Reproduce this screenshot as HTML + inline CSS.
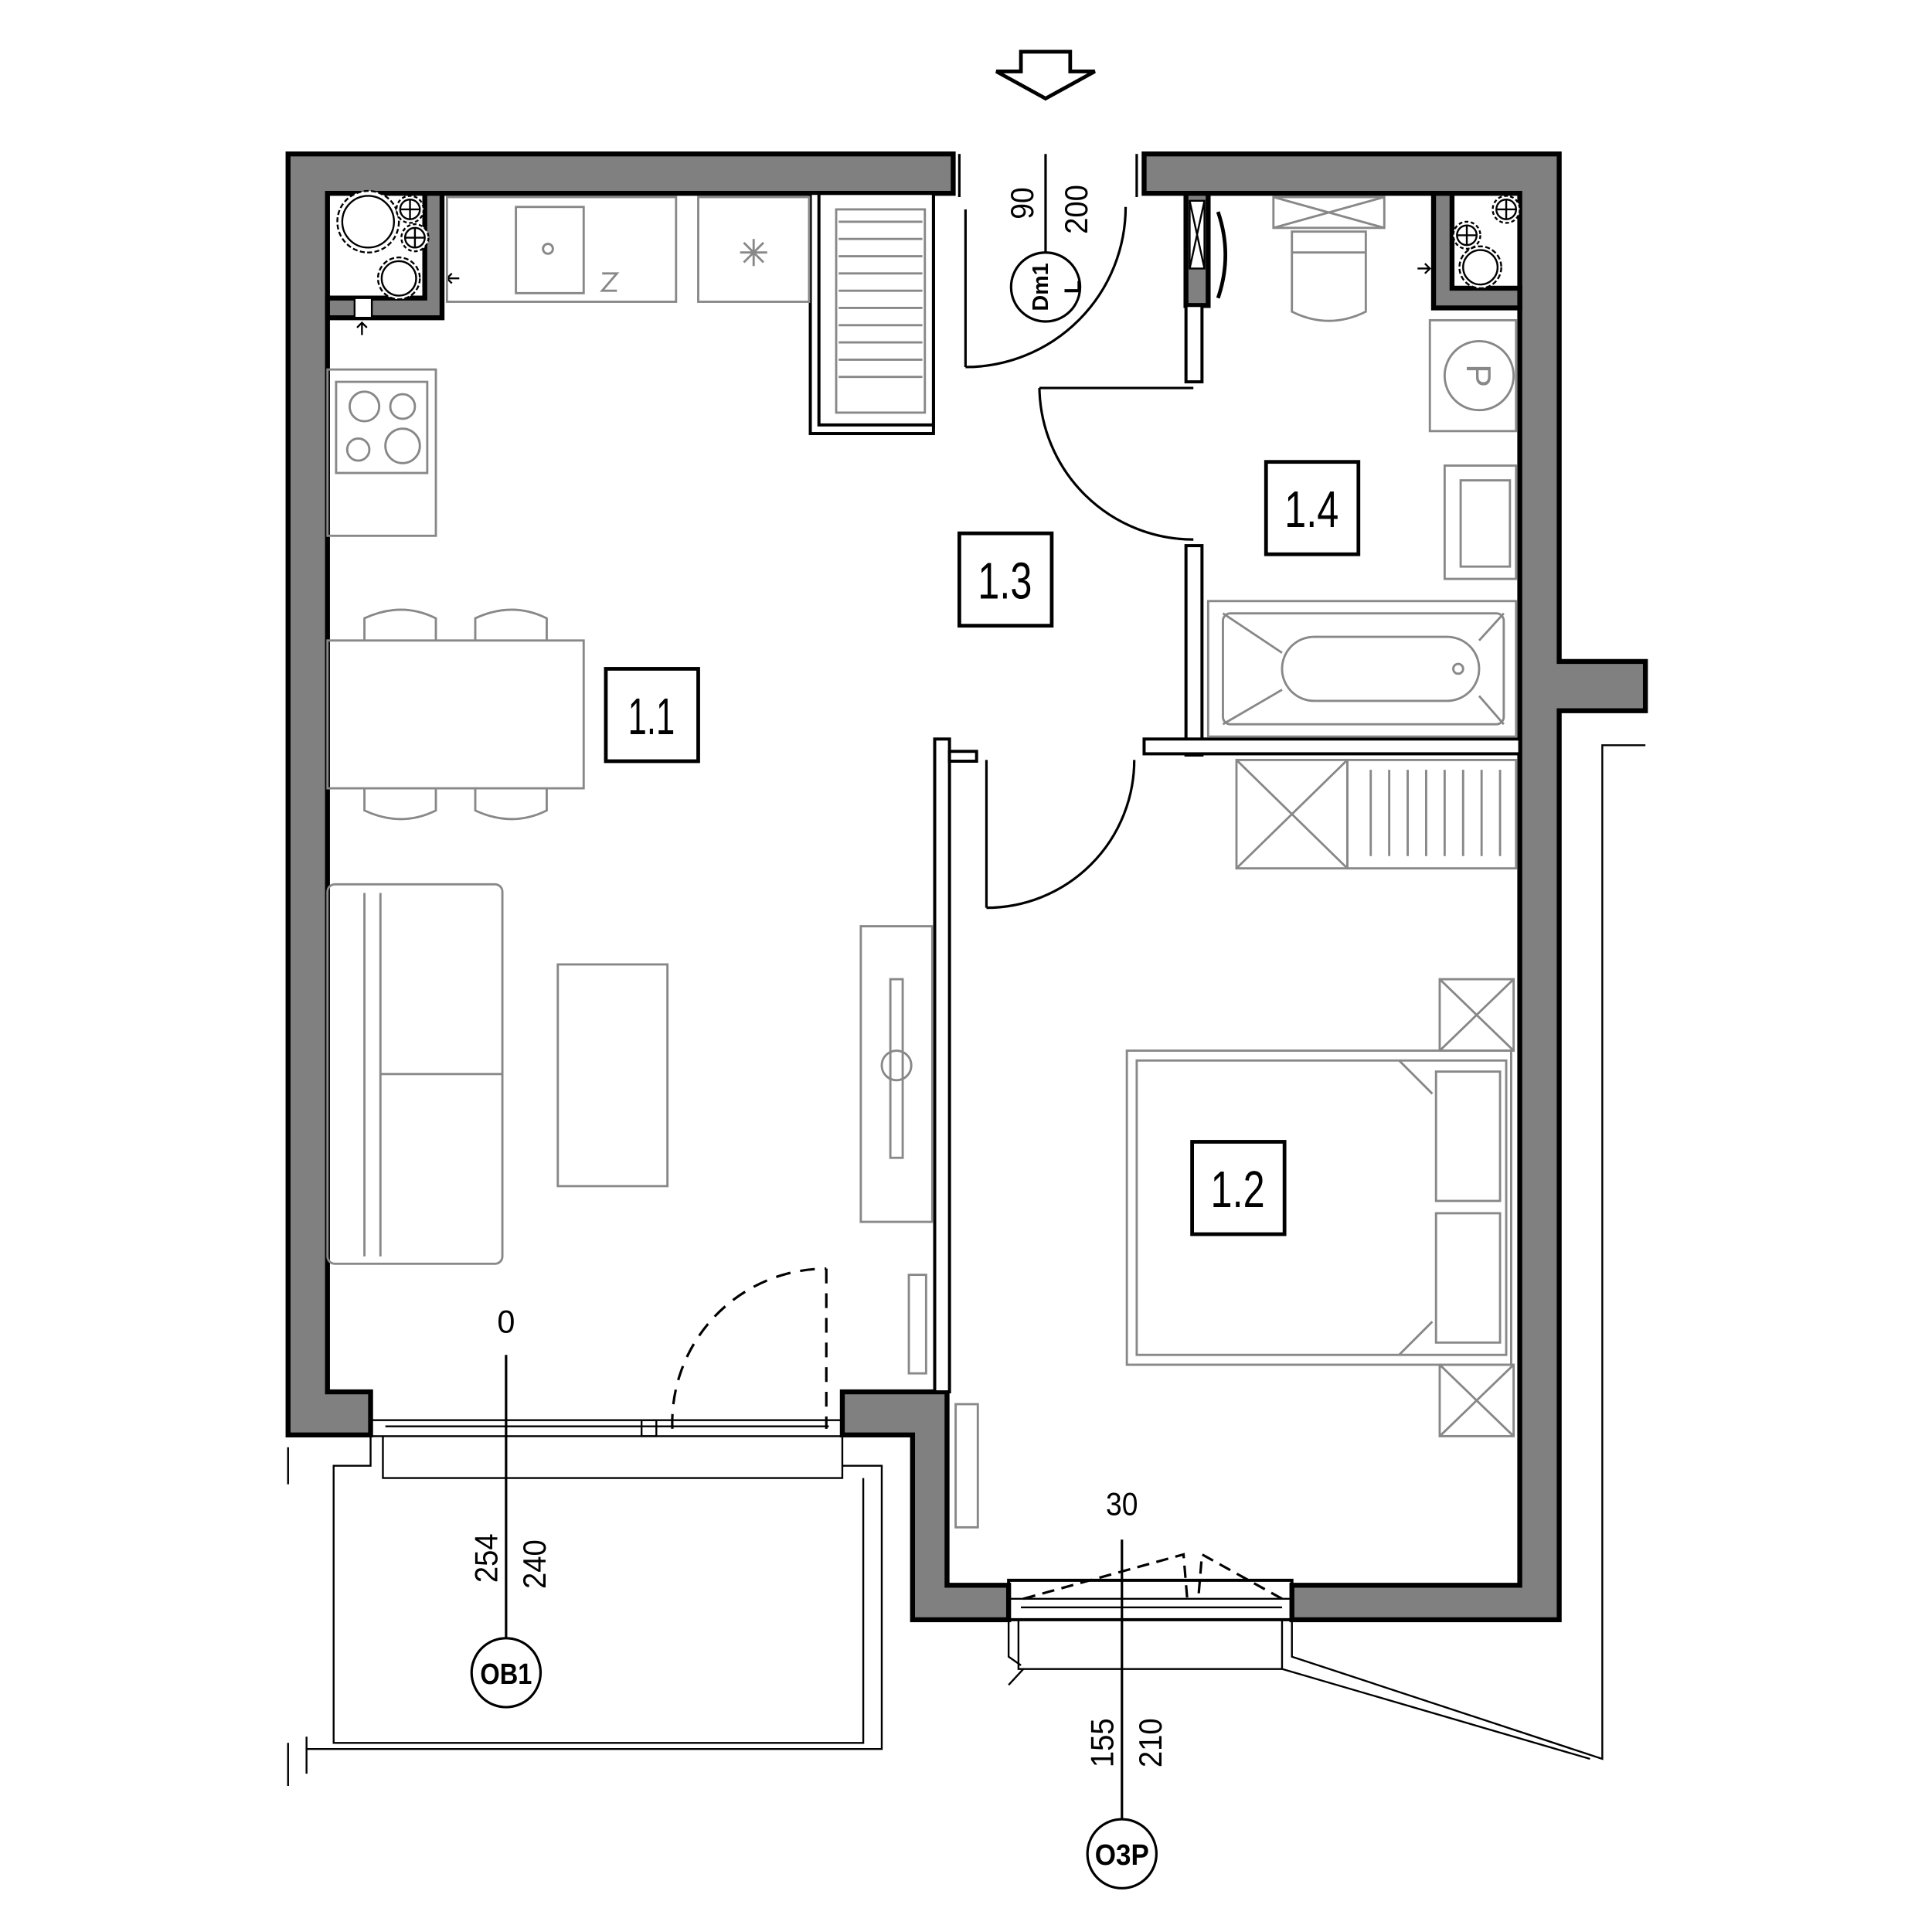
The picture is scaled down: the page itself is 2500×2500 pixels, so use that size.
<!DOCTYPE html>
<html><head><meta charset="utf-8"><style>
html,body{margin:0;padding:0;background:#fff}
svg{display:block}
text{font-family:"Liberation Sans",sans-serif}
</style></head><body>
<svg width="2500" height="2500" viewBox="0 0 1556 1556" xmlns="http://www.w3.org/2000/svg">
<rect width="1556" height="1556" fill="#fff"/>
<g transform="translate(232,124) scale(0.992) translate(-233,-125)">
<!-- entrance arrow -->
<path d="M828 42 H868 V58 H888 L848 80 L808 58 H828 Z" fill="#fff" stroke="#000" stroke-width="3"/>
<!-- outer walls -->
<g fill="#808080" stroke="#000" stroke-width="4">
<path d="M233 125 H773 V157 H265 V1130 H300 V1165 H233 Z"/>
<path d="M928 125 H1265 V537 H1335 V577 H1265 V1315 H1048 V1287 H1233 V157 H928 Z"/>
<path d="M683 1130 H768 V1287 H818 V1315 H740 V1165 H683 Z"/>
<!-- shafts L walls -->
<path d="M265 242 H344 V157 H358 V258 H265 Z"/>
<path d="M1163 157 H1178 V234 H1233 V250 H1163 Z"/>
<path d="M962 157 H980 V248 H962 Z"/>
</g>
<!-- shaft contents -->
<g fill="#fff" stroke="#000" stroke-width="1.5">
<circle cx="298" cy="180" r="25" stroke-dasharray="4 2"/><circle cx="298" cy="180" r="21"/>
<circle cx="332" cy="170" r="11" stroke-dasharray="3 2"/><circle cx="332" cy="170" r="8"/>
<path d="M324 170 h16 M332 162 v16"/>
<circle cx="336" cy="193" r="11" stroke-dasharray="3 2"/><circle cx="336" cy="193" r="8"/>
<path d="M328 193 h16 M336 185 v16"/>
<circle cx="323" cy="226" r="17" stroke-dasharray="4 2"/><circle cx="323" cy="226" r="14"/>
<rect x="287" y="242" width="14" height="16"/>
<path d="M372 226 h-10 M366 222 l-4 4 l4 4 M293 272 v-10 M289 266 l4 -4 l4 4" fill="none"/>
<circle cx="1222" cy="170" r="11" stroke-dasharray="3 2"/><circle cx="1222" cy="170" r="8"/><path d="M1214 170 h16 M1222 162 v16"/>
<circle cx="1190" cy="191" r="11" stroke-dasharray="3 2"/><circle cx="1190" cy="191" r="8"/><path d="M1182 191 h16 M1190 183 v16"/>
<circle cx="1201" cy="217" r="17" stroke-dasharray="4 2"/><circle cx="1201" cy="217" r="14"/>
<path d="M1150 218 h10 M1156 214 l4 4 l-4 4" fill="none"/>
<rect x="965" y="163" width="12" height="55"/><path d="M965 163 L977 218 M977 163 L965 218" fill="none"/>
<path d="M988 172 q12 35 0 70" fill="none" stroke-width="3"/>
</g>
<!-- interior thin walls -->
<g fill="#fff" stroke="#000" stroke-width="2.5">
<rect x="758" y="600" width="12" height="530"/>
<rect x="770" y="610" width="22" height="8"/>
<rect x="962" y="248" width="13" height="62"/>
<rect x="962" y="443" width="13" height="170"/>
<rect x="928" y="600" width="305" height="12"/>
<rect x="657" y="157" width="100" height="195"/>
<rect x="664" y="157" width="93" height="188" fill="none"/>
</g>
<!-- doors -->
<g fill="none" stroke="#000" stroke-width="2">
<path d="M783 298 A130 130 0 0 0 913 168"/><line x1="783" y1="170" x2="783" y2="298"/>
<line x1="778" y1="125" x2="778" y2="160"/><line x1="922" y1="125" x2="922" y2="160"/>
<path d="M843 315 A125 125 0 0 0 968 438"/><line x1="843" y1="315" x2="968" y2="315"/>
<path d="M800 737 A120 120 0 0 0 920 617"/><line x1="800" y1="617" x2="800" y2="737"/>
<path d="M545 1160 A125 125 0 0 1 670 1030" stroke-dasharray="12 8"/><line x1="670" y1="1030" x2="670" y2="1160" stroke-dasharray="12 8"/>
<rect x="300" y="1153" width="383" height="13" stroke-width="1.5"/>
<line x1="312" y1="1158" x2="672" y2="1158" stroke-width="1.5"/>
<rect x="520" y="1153" width="12" height="13" stroke-width="1.5"/>
<rect x="818" y="1283" width="230" height="32" stroke-width="2.5"/>
<line x1="818" y1="1298" x2="1048" y2="1298" stroke-width="1.5"/><line x1="828" y1="1305" x2="1040" y2="1305" stroke-width="1.5"/>
<path d="M830 1298 L960 1262 L963 1298 M1040 1298 L975 1262 L972 1298" stroke-dasharray="10 6"/>
</g>
<!-- furniture (gray) -->
<g fill="none" stroke="#888" stroke-width="1.8">
<rect x="362" y="160" width="186" height="85"/><rect x="418" y="168" width="55" height="70"/><circle cx="444" cy="202" r="4"/>
<path d="M488 222 h12 l-12 14 h12"/>
<rect x="566" y="160" width="90" height="85"/>
<path d="M600 205 h22 M611 194 v22 M603 197 l16 16 M619 197 l-16 16"/>
<rect x="265" y="300" width="88" height="135"/><rect x="272" y="310" width="74" height="74"/>
<circle cx="295" cy="330" r="12"/><circle cx="326" cy="330" r="10"/><circle cx="290" cy="365" r="9"/><circle cx="326" cy="362" r="14"/>
<rect x="265" y="520" width="208" height="120"/>
<path d="M295 520 v-18 q30 -14 58 0 v18 M385 520 v-18 q30 -14 58 0 v18 M295 640 v18 q30 14 58 0 v-18 M385 640 v18 q30 14 58 0 v-18"/>
<rect x="265" y="718" width="142" height="308" rx="6"/><line x1="308" y1="725" x2="308" y2="1020"/><line x1="308" y1="872" x2="407" y2="872"/><line x1="295" y1="725" x2="295" y2="1020"/>
<rect x="452" y="783" width="89" height="180"/>
<rect x="698" y="752" width="58" height="240"/><rect x="722" y="795" width="10" height="145"/><circle cx="727" cy="865" r="12"/>
<rect x="737" y="1035" width="14" height="80"/><rect x="775" y="1140" width="18" height="100"/>
<rect x="678" y="170" width="72" height="165"/>
<path d="M680 180 h68 M680 194 h68 M680 208 h68 M680 222 h68 M680 236 h68 M680 250 h68 M680 264 h68 M680 278 h68 M680 292 h68 M680 306 h68"/>
<rect x="1033" y="160" width="90" height="25"/><path d="M1033 160 L1123 185 M1123 160 L1033 185"/><path d="M1048 188 h60 v65 q-30 15 -60 0 z M1048 205 h60"/>
<rect x="1160" y="260" width="70" height="90"/><circle cx="1200" cy="305" r="28"/>
<text x="1200" y="315" font-size="28" fill="#888" stroke="none" text-anchor="middle" transform="rotate(90 1200 305)">P</text>
<rect x="1172" y="378" width="58" height="92"/><rect x="1185" y="390" width="40" height="70"/>
<rect x="980" y="488" width="250" height="110"/><rect x="992" y="498" width="228" height="90" rx="6"/><rect x="1040" y="517" width="160" height="52" rx="26"/><circle cx="1183" cy="543" r="4"/>
<path d="M992 498 L1040 530 M1220 498 L1200 520 M992 588 L1040 560 M1220 588 L1200 565"/>
<rect x="1003" y="617" width="90" height="88"/><path d="M1003 617 L1093 705 M1093 617 L1003 705"/>
<rect x="1093" y="617" width="137" height="88"/>
<path d="M1112 625 v70 M1127 625 v70 M1142 625 v70 M1157 625 v70 M1172 625 v70 M1187 625 v70 M1202 625 v70 M1217 625 v70"/>
<rect x="1168" y="795" width="60" height="58"/><path d="M1168 795 L1228 853 M1228 795 L1168 853"/>
<rect x="1168" y="1108" width="60" height="58"/><path d="M1168 1108 L1228 1166 M1228 1108 L1168 1166"/>
<rect x="914" y="853" width="312" height="255"/><rect x="922" y="861" width="300" height="239"/>
<rect x="1165" y="870" width="52" height="105"/><rect x="1165" y="985" width="52" height="105"/>
<path d="M1135 861 L1162 888 M1135 1100 L1162 1073"/>
</g>
<!-- balconies -->
<g fill="none" stroke="#000" stroke-width="1.5">
<path d="M310 1166 V1200 H683 V1166 M300 1166 V1190 H270 V1415 H700 V1200 M683 1166 V1190 H715 V1420 H248 M248 1410 V1440 M233 1175 V1205 M233 1415 V1450"/>
<path d="M826 1315 V1355 H1040 V1315 M818 1315 V1345 L828 1352 M1048 1315 V1345 L1300 1428 V605 H1335 M1290 1428 L1040 1355 M830 1355 L818 1368"/>
</g>
<!-- dimension lines -->
<g stroke="#000" stroke-width="2" fill="none">
<line x1="848" y1="125" x2="848" y2="205"/>
<line x1="410" y1="1100" x2="410" y2="1335"/>
<line x1="910" y1="1250" x2="910" y2="1480"/>
</g>
<g fill="#fff" stroke="#000" stroke-width="2">
<circle cx="848" cy="233" r="28"/><circle cx="410" cy="1358" r="28"/><circle cx="910" cy="1505" r="28"/>
</g>
<g font-size="26" fill="#000" text-anchor="middle">
<text transform="translate(838 165) rotate(-90)" textLength="26" lengthAdjust="spacingAndGlyphs">90</text>
<text transform="translate(882 170) rotate(-90)" textLength="40" lengthAdjust="spacingAndGlyphs">200</text>
<text transform="translate(403 1265) rotate(-90)" textLength="40" lengthAdjust="spacingAndGlyphs">254</text>
<text transform="translate(442 1270) rotate(-90)" textLength="40" lengthAdjust="spacingAndGlyphs">240</text>
<text transform="translate(903 1415) rotate(-90)" textLength="40" lengthAdjust="spacingAndGlyphs">155</text>
<text transform="translate(942 1415) rotate(-90)" textLength="40" lengthAdjust="spacingAndGlyphs">210</text>
<text x="410" y="1082">0</text>
<text x="910" y="1230" textLength="26" lengthAdjust="spacingAndGlyphs">30</text>
<text transform="translate(850 233) rotate(-90)" font-size="18" font-weight="bold">Dm1</text>
<text transform="translate(876 233) rotate(-90)" font-size="18" font-weight="bold">L</text>
<text x="410" y="1367" font-size="24" font-weight="bold" textLength="42" lengthAdjust="spacingAndGlyphs">OB1</text>
<text x="910" y="1514" font-size="24" font-weight="bold" textLength="44" lengthAdjust="spacingAndGlyphs">O3P</text>
</g>
<!-- room labels -->
<g fill="#fff" stroke="#000" stroke-width="3">
<rect x="491" y="543" width="75" height="75"/><rect x="778" y="433" width="75" height="75"/>
<rect x="1027" y="375" width="75" height="75"/><rect x="967" y="927" width="75" height="75"/>
</g>
<g font-size="42" fill="#000" text-anchor="middle">
<text x="528" y="596" textLength="38" lengthAdjust="spacingAndGlyphs">1.1</text>
<text x="815" y="486" textLength="44" lengthAdjust="spacingAndGlyphs">1.3</text>
<text x="1064" y="428" textLength="44" lengthAdjust="spacingAndGlyphs">1.4</text>
<text x="1004" y="980" textLength="44" lengthAdjust="spacingAndGlyphs">1.2</text>
</g>
</g>
</svg>
</body></html>
